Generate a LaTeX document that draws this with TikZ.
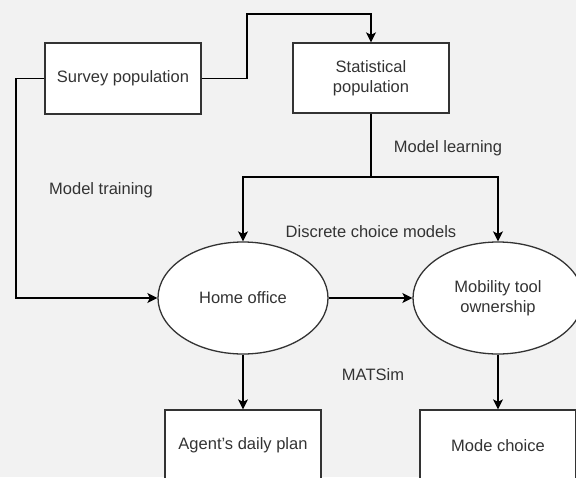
\documentclass[tikz,border=0pt]{standalone}
\usepackage{fontspec}
\setmainfont{Liberation Sans}
\usetikzlibrary{arrows.meta,shapes.geometric}
\definecolor{bg}{HTML}{F2F2F2}
\definecolor{txt}{HTML}{333333}
\definecolor{edge}{HTML}{333333}
\tikzset{
  boxnode/.style={draw=edge, fill=white, line width=1.3pt, rectangle, minimum width=156pt, minimum height=71pt, inner sep=0pt, align=center, text=txt, font=\fontsize{16.5}{20}\selectfont},
  ellnode/.style={draw=edge, fill=white, line width=1.3pt, ellipse, minimum width=170pt, minimum height=112pt, inner sep=0pt, align=center, text=txt, font=\fontsize{16.5}{20}\selectfont},
  lbl/.style={text=txt, font=\fontsize{16.5}{20}\selectfont, inner sep=0pt},
  conn/.style={draw=black, line width=1.3pt},
  arr/.style={conn, -{Stealth[length=10pt, width=10pt, inset=2.5pt]}}
}
\begin{document}
\begin{tikzpicture}[x=1pt, y=-1pt]
\fill[bg] (0,0) rectangle (576,477);
\useasboundingbox (0,0) rectangle (576,477);
\clip (0,0) rectangle (576,477);

\node[boxnode] (survey) at (123,78.5) {Survey population};
\node[boxnode, minimum height=70pt] (stat) at (371,78) {Statistical\\population};
\node[ellnode] (home) at (243,298) {Home office};
\node[ellnode] (mob) at (498,298) {Mobility tool\\ownership};
\node[boxnode] (agent) at (243,445.5) {Agent's daily plan};
\node[boxnode] (mode) at (498,445.5) {Mode choice};

\node[lbl] (lmlearn) at (448,148) {Model learning};
\node[lbl] (lmtrain) at (101,190) {Model training};
\node[lbl] (ldcm) at (371,232) {Discrete choice models};
\node[lbl] (lmatsim) at (373,375) {MATSim};

\coordinate (lc) at (16,78.5);
\coordinate (tc) at (247,14);
\coordinate (j) at (371,177);

\draw[arr] (survey.west) -- (lc) |- (home.west);
\draw[arr] (survey.east) -| (tc) -| (stat.north);
\draw[conn] (stat.south) -- (j);
\draw[arr] (j) -| (home.north);
\draw[arr] (j) -| (mob.north);
\draw[arr] (home.east) -- (mob.west);
\draw[arr] (home.south) -- (agent.north);
\draw[arr] (mob.south) -- (mode.north);
\end{tikzpicture}
\end{document}
